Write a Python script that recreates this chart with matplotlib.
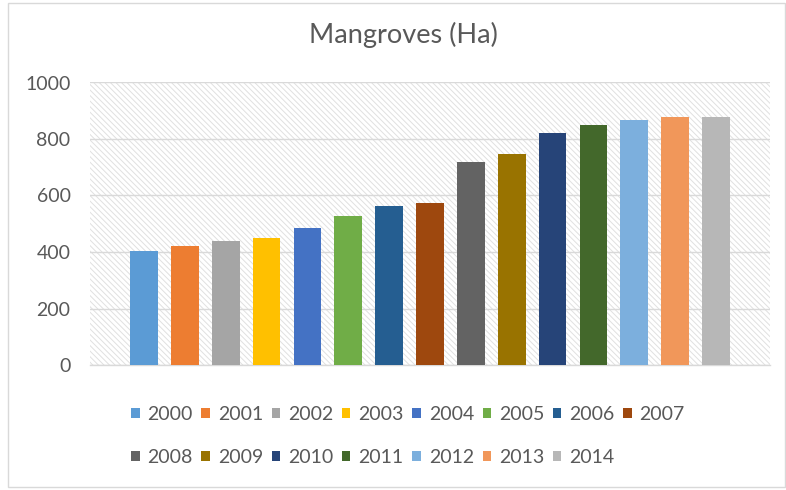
import matplotlib
matplotlib.use("Agg")
import matplotlib.pyplot as plt
from matplotlib.patches import Rectangle

plt.rcParams['font.family'] = ['Lato', 'DejaVu Sans']
plt.rcParams['hatch.linewidth'] = 0.7

years = ["2000", "2001", "2002", "2003", "2004", "2005", "2006", "2007",
         "2008", "2009", "2010", "2011", "2012", "2013", "2014"]
mangroves_ha = [404, 421, 438, 450, 486, 528, 563, 575,
                717, 747, 822, 848, 868, 877, 878]
colors = ["#5B9BD5", "#ED7D31", "#A5A5A5", "#FFC000", "#4472C4", "#70AD47",
          "#255E91", "#9E480E", "#636363", "#997300", "#264478", "#43682B",
          "#7CAFDD", "#F1975A", "#B7B7B7"]
yticks = [0, 200, 400, 600, 800, 1000]

W, H = 786, 490
fig = plt.figure(figsize=(W / 100, H / 100), dpi=100)

# outer chart border
fig.patches.append(Rectangle((8 / W, 3 / H), 777 / W, 484 / H,
                             transform=fig.transFigure, fill=False,
                             edgecolor="#d9d9d9", linewidth=1.0))

ax = fig.add_axes([90 / W, 1 - 365 / H, 680 / W, 282.5 / H])

# hatched plot-area background
ax.patch.set_facecolor("white")
ax.patch.set_edgecolor("#e0e0e0")
ax.patch.set_linewidth(0)
ax.patch.set_hatch("\\\\\\\\\\\\")

text_color = "#595959"
fs = 14
handles = []
for i, (yr, v, c) in enumerate(zip(years, mangroves_ha, colors)):
    b = ax.bar(i, v, width=0.68, color=c, label=yr, zorder=3)
    handles.append(b)

ax.set_xlim(-1.32, len(years) - 1 + 1.32)
ax.set_ylim(0, 1000)
ax.set_yticks(yticks)
ax.set_yticklabels([str(t) for t in yticks])
ax.set_xticks([])
ax.tick_params(axis="y", length=0, pad=14, labelsize=fs, labelcolor=text_color)
ax.grid(axis="y", color="#d9d9d9", linewidth=1.0, zorder=1)
ax.set_axisbelow(True)
for s in ["top", "right", "left"]:
    ax.spines[s].set_visible(False)
ax.spines["bottom"].set_color("#d9d9d9")
ax.spines["bottom"].set_linewidth(1.0)

fig.text(403 / W, 1 - 35 / H, "Mangroves (Ha)", ha="center", va="center",
         fontsize=19.5, color=text_color)

# legend laid out row by row: 8 entries on the first row, 7 on the second
ncol = 8
order = []
for j in range(ncol):
    for k in (j, j + ncol):
        if k < len(years):
            order.append(k)

lfs = 14
fs_px = lfs * 100 / 72
leg = fig.legend(handles=[handles[k] for k in order],
                 labels=[years[k] for k in order], ncol=ncol,
                 loc="upper left", bbox_to_anchor=(131 / W, 1 - 406 / H),
                 frameon=False, fontsize=lfs, labelcolor=text_color,
                 handlelength=8.5 / fs_px, handleheight=8.5 / fs_px,
                 handletextpad=8 / fs_px, columnspacing=8.5 / fs_px,
                 labelspacing=1.35, borderpad=0, borderaxespad=0)

fig.savefig("out.png", dpi=100)
